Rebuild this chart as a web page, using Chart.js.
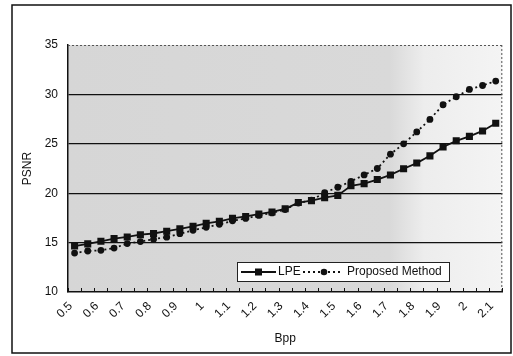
<!DOCTYPE html>
<html><head><meta charset="utf-8">
<script src="https://cdn.jsdelivr.net/npm/chart.js@4.4.0/dist/chart.umd.min.js"></script>
<style>html,body{margin:0;padding:0;background:#fff;}#wrap{width:513px;height:356px;position:relative;}</style>
</head><body><div id="wrap"><canvas id="c" width="513" height="356"></canvas></div>
<script>
// Bpp categories (0.05 step); only every second one is labelled
const categories = ["0.5","0.55","0.6","0.65","0.7","0.75","0.8","0.85","0.9","0.95","1","1.05","1.1","1.15","1.2","1.25","1.3","1.35","1.4","1.45","1.5","1.55","1.6","1.65","1.7","1.75","1.8","1.85","1.9","1.95","2","2.05","2.1"];
const tickLabels = ["0.5","0.6","0.7","0.8","0.9","1","1.1","1.2","1.3","1.4","1.5","1.6","1.7","1.8","1.9","2","2.1"];
const seriesNames = ["LPE","Proposed Method"];
const lpe = [14.65,14.87,15.13,15.4,15.57,15.8,15.92,16.15,16.39,16.65,16.95,17.15,17.45,17.65,17.88,18.1,18.42,19.05,19.25,19.55,19.78,20.75,20.97,21.38,21.85,22.48,23.05,23.78,24.68,25.3,25.75,26.3,27.08];
const proposed = [13.94,14.15,14.22,14.45,14.9,15.1,15.35,15.55,15.9,16.25,16.55,16.85,17.2,17.45,17.75,18.0,18.35,19.0,19.3,20.05,20.6,21.2,21.85,22.5,23.95,25.0,26.2,27.47,28.95,29.76,30.5,30.9,31.35];
const yTicks = [10,15,20,25,30,35];

const FONT = "'Liberation Sans', Arial, sans-serif";

const decor = {
  id: 'decor',
  beforeDraw(chart) {
    const {ctx, chartArea: a} = chart;
    ctx.save();
    ctx.fillStyle = '#fff';
    ctx.fillRect(0, 0, chart.width, chart.height);
    const g = ctx.createLinearGradient(a.left, 0, a.right, 0);
    g.addColorStop(0, '#d6d6d6');
    g.addColorStop(0.74, '#d9d9d9');
    g.addColorStop(0.82, '#ededed');
    g.addColorStop(1, '#f4f4f4');
    ctx.fillStyle = g;
    ctx.fillRect(a.left, a.top, a.right - a.left, a.bottom - a.top);
    ctx.restore();
  },
  afterDatasetsDraw(chart) {
    const {ctx, chartArea: a} = chart;
    ctx.save();
    // dotted top / right plot border
    ctx.strokeStyle = '#555';
    ctx.lineWidth = 1;
    ctx.setLineDash([2, 2]);
    ctx.beginPath();
    ctx.moveTo(a.left, a.top + 0.5); ctx.lineTo(a.right, a.top + 0.5);
    ctx.moveTo(a.right - 0.5, a.top); ctx.lineTo(a.right - 0.5, a.bottom);
    ctx.stroke();
    ctx.setLineDash([]);
    // inside tick marks on category boundaries
    const n = categories.length;
    const slot = (a.right - a.left) / n;
    ctx.strokeStyle = '#111';
    ctx.beginPath();
    for (let i = 0; i <= n; i++) {
      const x = Math.round(a.left + i * slot) + 0.5;
      ctx.moveTo(x, a.bottom); ctx.lineTo(x, a.bottom - 4);
    }
    ctx.stroke();
    // legend box inside plot
    const bx = a.left + 169, by = a.bottom - 30, bw = 212, bh = 19;
    ctx.fillStyle = '#fff';
    ctx.fillRect(bx, by, bw, bh);
    ctx.strokeStyle = '#222';
    ctx.lineWidth = 1;
    ctx.strokeRect(bx + 0.5, by + 0.5, bw, bh);
    const cy = by + bh / 2 + 0.5;
    ctx.lineWidth = 1.8;
    ctx.strokeStyle = '#111';
    ctx.beginPath(); ctx.moveTo(bx + 4, cy); ctx.lineTo(bx + 39, cy); ctx.stroke();
    ctx.fillStyle = '#111';
    ctx.fillRect(bx + 18, cy - 3.5, 7, 7);
    ctx.setLineDash([2, 3]);
    ctx.beginPath(); ctx.moveTo(bx + 66, cy); ctx.lineTo(bx + 106, cy); ctx.stroke();
    ctx.setLineDash([]);
    ctx.beginPath(); ctx.arc(bx + 87, cy, 3.3, 0, Math.PI * 2); ctx.fill();
    ctx.font = '12px ' + FONT;
    ctx.textBaseline = 'middle';
    ctx.fillText(seriesNames[0], bx + 41, cy);
    ctx.fillText(seriesNames[1], bx + 110, cy);
    // outer frame
    ctx.lineWidth = 1.5;
    ctx.strokeStyle = '#111';
    ctx.strokeRect(12, 5, 499, 348);
    ctx.restore();
  }
};

new Chart(document.getElementById('c'), {
  type: 'line',
  data: {
    labels: categories,
    datasets: [
      { label: seriesNames[0], data: lpe, borderColor: '#111', backgroundColor: '#111', borderWidth: 1.8,
        pointStyle: 'rect', pointRadius: 5, pointBorderWidth: 0, tension: 0 },
      { label: seriesNames[1], data: proposed, borderColor: '#111', backgroundColor: '#111', borderWidth: 1.8,
        borderDash: [2, 3], pointStyle: 'circle', pointRadius: 3.4, pointBorderWidth: 0, tension: 0 }
    ]
  },
  options: {
    responsive: false,
    animation: false,
    events: [],
    layout: { padding: { left: 14, right: 6, top: 45, bottom: 4 } },
    plugins: { legend: { display: false }, tooltip: { enabled: false } },
    scales: {
      x: {
        type: 'category',
        offset: true,
        afterFit: s => { s.height = 60; },
        grid: { display: false, drawTicks: false },
        border: { display: true, color: '#111', width: 1.5 },
        ticks: {
          autoSkip: false, minRotation: 45, maxRotation: 45, padding: 7, labelOffset: -4,
          color: '#111', font: { family: FONT, size: 12 },
          callback: (v, i) => (i % 2 === 0 ? tickLabels[i / 2] : '')
        },
        title: { display: true, text: 'Bpp', color: '#111', font: { family: FONT, size: 12 }, padding: { top: 0, bottom: 6 } }
      },
      y: {
        min: yTicks[0], max: yTicks[yTicks.length - 1],
        afterFit: s => { s.width = 54; },
        afterBuildTicks: s => { s.ticks = yTicks.map(v => ({ value: v })); },
        grid: { drawTicks: false, lineWidth: 1.3,
          color: c => (c.tick && c.tick.value > yTicks[0] && c.tick.value < yTicks[yTicks.length - 1]) ? '#111' : 'rgba(0,0,0,0)' },
        border: { display: true, color: '#111', width: 1.5 },
        ticks: { padding: 10, color: '#111', font: { family: FONT, size: 12 } },
        title: { display: true, text: 'PSNR', color: '#111', font: { family: FONT, size: 12 }, padding: { top: 6, bottom: 0 } }
      }
    }
  },
  plugins: [decor]
});
</script>
</body></html>
